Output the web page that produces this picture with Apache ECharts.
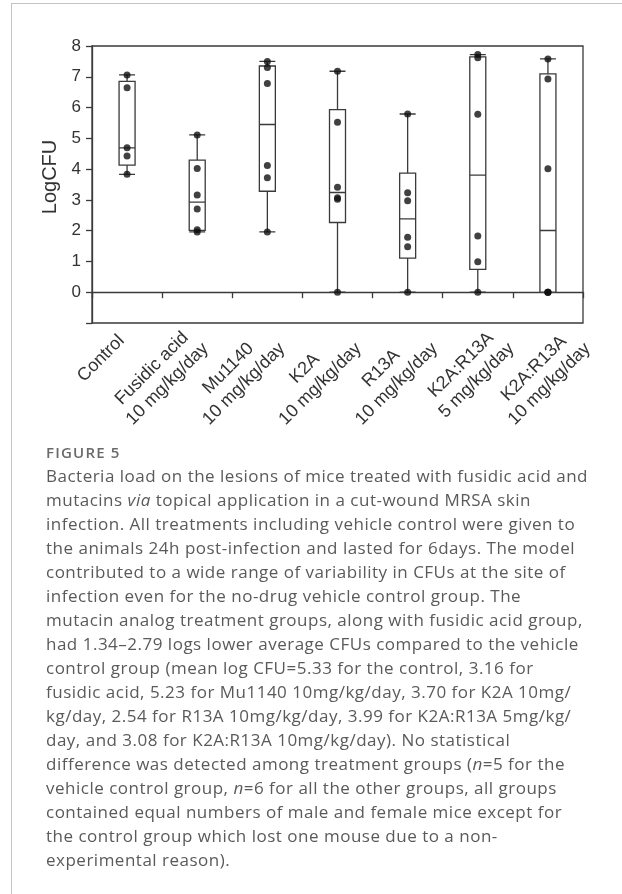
<!DOCTYPE html>
<html>
<head>
<meta charset="utf-8">
<script src="https://cdn.jsdelivr.net/npm/echarts@6/dist/echarts.min.js"></script>
<style>
  html, body { margin: 0; padding: 0; background: #fff; }
  #page { position: relative; width: 622px; height: 894px; overflow: hidden; }
  #frame { position: absolute; left: 11px; top: 3px; right: -2px; bottom: -2px;
           border-left: 1.5px solid #c4c4c4; border-top: 1.5px solid #c4c4c4; }
  #chart { position: absolute; left: 0; top: 0; width: 622px; height: 894px; }
  #caption { position: absolute; left: 46px; top: 440px; color: #5a5a5a;
             font-family: "Open Sans", sans-serif; }
  #caption .fig { font-size: 15px; font-weight: 600; line-height: 24px; color: #6a6a6a; letter-spacing: 1.2px; }
  #caption .body { font-size: 17px; line-height: 24px; letter-spacing: 0.5px; }
  #caption .body div { white-space: nowrap; }
</style>
</head>
<body>
<div id="page">
  <div id="frame"></div>
  <div id="chart"></div>
  <div id="caption">
    <div class="fig">FIGURE 5</div>
    <div class="body">
      <div>Bacteria load on the lesions of mice treated with fusidic acid and</div>
      <div>mutacins <i>via</i> topical application in a cut-wound MRSA skin</div>
      <div>infection. All treatments including vehicle control were given to</div>
      <div>the animals 24h post-infection and lasted for 6days. The model</div>
      <div>contributed to a wide range of variability in CFUs at the site of</div>
      <div>infection even for the no-drug vehicle control group. The</div>
      <div>mutacin analog treatment groups, along with fusidic acid group,</div>
      <div>had 1.34–2.79 logs lower average CFUs compared to the vehicle</div>
      <div>control group (mean log CFU=5.33 for the control, 3.16 for</div>
      <div>fusidic acid, 5.23 for Mu1140 10mg/kg/day, 3.70 for K2A 10mg/</div>
      <div>kg/day, 2.54 for R13A 10mg/kg/day, 3.99 for K2A:R13A 5mg/kg/</div>
      <div>day, and 3.08 for K2A:R13A 10mg/kg/day). No statistical</div>
      <div>difference was detected among treatment groups (<i>n</i>=5 for the</div>
      <div>vehicle control group, <i>n</i>=6 for all the other groups, all groups</div>
      <div>contained equal numbers of male and female mice except for</div>
      <div>the control group which lost one mouse due to a non-</div>
      <div>experimental reason).</div>
    </div>
  </div>
</div>
<script>
// Treatment groups (x categories)
const categories = [
  'Control',
  'Fusidic acid\n10 mg/kg/day',
  'Mu1140\n10 mg/kg/day',
  'K2A\n10 mg/kg/day',
  'R13A\n10 mg/kg/day',
  'K2A:R13A\n5 mg/kg/day',
  'K2A:R13A\n10 mg/kg/day'
];

// Log CFU per animal, one array per group
const control      = [3.83, 4.43, 4.69, 6.64, 7.06];
const fusidicAcid  = [1.96, 2.03, 2.70, 3.16, 4.02, 5.11];
const mu1140       = [1.96, 3.72, 4.12, 6.78, 7.30, 7.50];
const k2a          = [0, 3.02, 3.07, 3.41, 5.52, 7.18];
const r13a         = [0, 1.48, 1.79, 2.97, 3.23, 5.79];
const k2aR13a5     = [0, 0.99, 1.83, 5.78, 7.62, 7.72];
const k2aR13a10    = [0, 0, 0, 4.01, 6.93, 7.58];

const groups = [control, fusidicAcid, mu1140, k2a, r13a, k2aR13a5, k2aR13a10];

// Y axis ticks
const yTicks = [0, 1, 2, 3, 4, 5, 6, 7, 8];
const yMin = -1, yMax = 8;

// Percentile with (n+1)p positioning, linear interpolation
function percentile(sorted, p) {
  const n = sorted.length;
  const pos = (n + 1) * p;
  if (pos <= 1) return sorted[0];
  if (pos >= n) return sorted[n - 1];
  const lo = Math.floor(pos), frac = pos - lo;
  return sorted[lo - 1] + frac * (sorted[lo] - sorted[lo - 1]);
}

const boxData = groups.map(g => {
  const s = g.slice().sort((a, b) => a - b);
  return [s[0], percentile(s, 0.25), percentile(s, 0.5), percentile(s, 0.75), s[s.length - 1]];
});

const pointData = [];
groups.forEach((g, i) => g.forEach(v => pointData.push([i, v])));

const ink = '#3a3a3a';
const font = '"Liberation Sans", Arial, sans-serif';

const chart = echarts.init(document.getElementById('chart'), null, { renderer: 'canvas' });
chart.setOption({
  animation: false,
  textStyle: { fontFamily: font },
  grid: [
    { left: 92, top: 46, width: 491, height: 277, show: true, borderColor: ink, borderWidth: 1.3, backgroundColor: 'transparent' },
    { left: 83.3, top: 46, width: 534.8, height: 277 }
  ],
  xAxis: [
    {
      type: 'category', gridIndex: 0, data: categories, boundaryGap: true,
      axisLine: { lineStyle: { color: ink, width: 1.3 } },
      axisTick: { show: true, interval: 0, length: 6, lineStyle: { color: ink, width: 1.3 } },
      axisLabel: { show: false },
      splitLine: { show: false }
    },
    {
      type: 'category', gridIndex: 1, data: categories, boundaryGap: true,
      axisLine: { show: false },
      axisTick: { show: false },
      splitLine: { show: false },
      axisLabel: {
        show: true, interval: 0, rotate: 45, margin: 15,
        align: 'right', verticalAlign: 'middle',
        formatter: v => v.split('\n').map(s => '{c|' + s + '}').join('\n'),
        rich: {
          c: { align: 'center', fontSize: 18, lineHeight: 22, color: '#333', fontFamily: font }
        }
      }
    }
  ],
  yAxis: [
    {
      type: 'value', gridIndex: 0, min: yMin, max: yMax, interval: 1,
      name: 'LogCFU', nameLocation: 'middle', nameGap: 25,
      nameTextStyle: { fontSize: 20, color: '#333', fontFamily: font, padding: [0, 0, 0, 15] },
      axisLine: { show: true, lineStyle: { color: ink, width: 1.3 } },
      axisTick: { show: true, length: 6, lineStyle: { color: ink, width: 1.3 } },
      axisLabel: {
        fontSize: 17, color: '#333', margin: 11, fontFamily: font,
        formatter: v => (yTicks.indexOf(v) >= 0 ? String(v) : '')
      },
      splitLine: { show: false }
    },
    { type: 'value', gridIndex: 1, min: yMin, max: yMax, show: false }
  ],
  series: [
    {
      type: 'boxplot', xAxisIndex: 0, yAxisIndex: 0,
      data: boxData, boxWidth: [16, 16],
      itemStyle: { color: '#fff', borderColor: ink, borderWidth: 1.3 },
      emphasis: { disabled: true }, z: 2
    },
    {
      type: 'scatter', xAxisIndex: 0, yAxisIndex: 0,
      data: pointData, symbol: 'circle', symbolSize: 7,
      itemStyle: { color: '#111' }, z: 3
    }
  ]
});
</script>
</body>
</html>
